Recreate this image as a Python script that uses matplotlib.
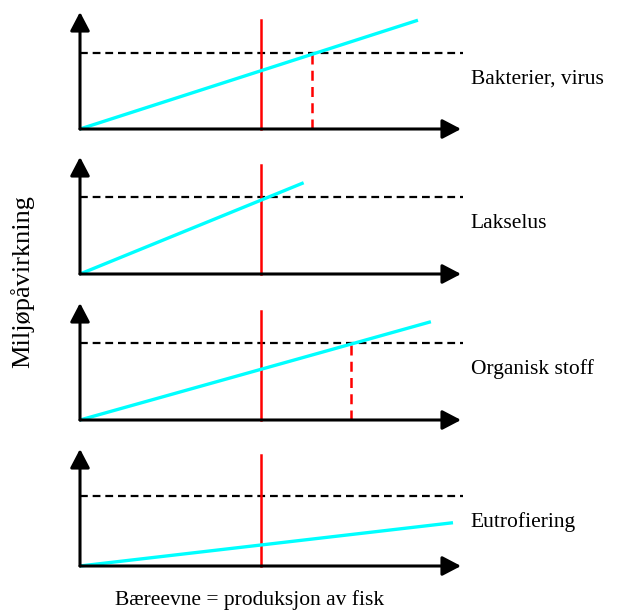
import matplotlib
matplotlib.use("Agg")
import matplotlib.pyplot as plt

plt.rcParams['font.family'] = ['Liberation Serif', 'DejaVu Serif']

# one entry per panel, top to bottom (axis units 0..1)
labels = ["Bakterier, virus", "Lakselus", "Organisk stoff", "Eutrofiering"]
limit_level = [0.65, 0.66, 0.66, 0.60]      # dashed black line
carrying_x = 0.474                           # red vertical line
red_top = [0.93, 0.93, 0.93, 0.95]
impact_end_x = [0.887, 0.587, 0.921, 0.979]  # cyan line end
impact_end_y = [0.93, 0.78, 0.84, 0.37]
capacity_x = [0.61, None, 0.71, None]        # red dashed line

W, H = 621, 614
fig = plt.figure(figsize=(W / 100, H / 100), dpi=100)

baselines = [129, 274, 420, 566]
x0, xlen, ylen = 80, 381, 117

for i, base in enumerate(baselines):
    ax = fig.add_axes([x0 / W, 1 - base / H, xlen / W, ylen / H])
    ax.set_xlim(0, 1)
    ax.set_ylim(0, 1)
    ax.axis('off')

    arrow = dict(arrowstyle='-|>,head_length=0.42,head_width=0.22', lw=2.2,
                 mutation_scale=27, color='black', shrinkA=0, shrinkB=0)
    ax.annotate('', xy=(1.0, 0), xytext=(0, 0), arrowprops=arrow, annotation_clip=False)
    ax.annotate('', xy=(0, 1.0), xytext=(0, 0), arrowprops=arrow, annotation_clip=False)

    ax.plot([0, 1.005], [limit_level[i]] * 2, color='black', lw=1.6,
            linestyle=(0, (3.5, 2.2)), clip_on=False)
    ax.plot([carrying_x] * 2, [0, red_top[i]], color='red', lw=1.8, clip_on=False)
    if capacity_x[i] is not None:
        ax.plot([capacity_x[i]] * 2, [0, limit_level[i]], color='red', lw=1.8,
                linestyle=(0, (4, 2.5)), clip_on=False)
    ax.plot([0, impact_end_x[i]], [0, impact_end_y[i]], color='cyan', lw=2.4,
            clip_on=False, solid_capstyle='butt')

    ax.text(1.025, limit_level[i] - 0.225, labels[i], fontsize=15.5,
            va='center', ha='left', transform=ax.transAxes)

fig.text(22 / W, 1 - 282 / H, "Miljøpåvirkning", rotation=90, fontsize=19,
         va='center', ha='center')
fig.text(115 / W, 1 - 600 / H, "Bæreevne = produksjon av fisk", fontsize=15.5,
         va='center', ha='left')

fig.savefig("out.png", dpi=100)
